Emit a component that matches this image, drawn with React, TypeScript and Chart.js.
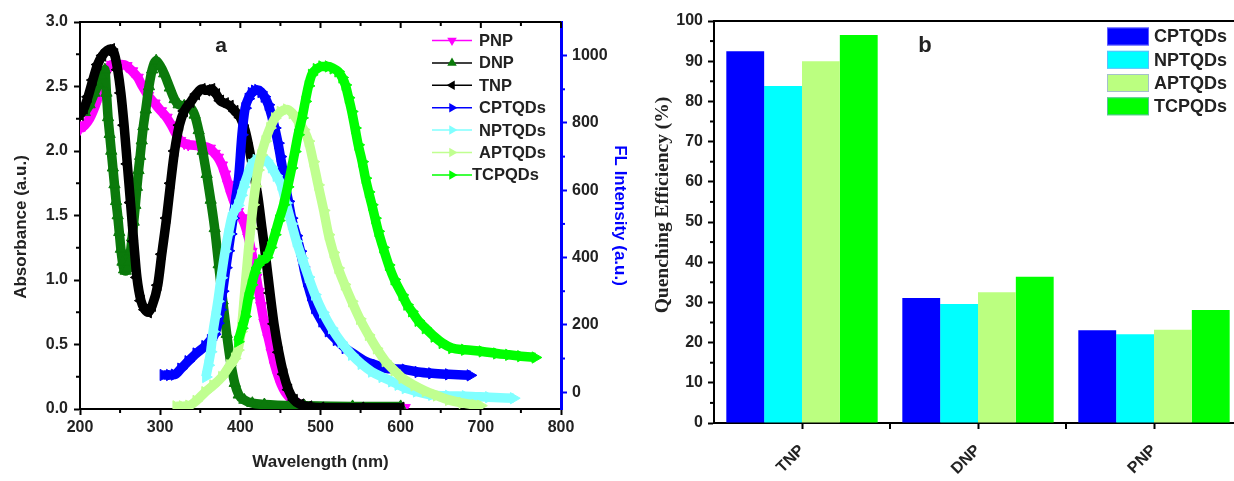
import React, { useEffect, useRef } from 'react';
import { Chart, registerables } from 'chart.js';

Chart.register(...registerables);

// ---------------- Panel a : absorbance (left axis) ----------------
const PNP_WL = [200, 206, 212, 219, 225, 230, 234, 240, 246, 252, 258, 265, 272, 278, 285, 293, 301, 308, 314, 320, 325, 330, 335, 348, 362, 368, 372, 377, 381, 385, 389, 393, 397, 402, 406, 410, 414, 417, 420, 423, 426, 430, 435, 439, 443, 447, 451, 456, 462, 467, 472, 480, 490, 520, 560, 605];
const PNP_ABS = [2.17, 2.2, 2.25, 2.35, 2.46, 2.57, 2.63, 2.67, 2.67, 2.67, 2.66, 2.62, 2.57, 2.5, 2.43, 2.37, 2.31, 2.26, 2.2, 2.13, 2.08, 2.06, 2.05, 2.04, 2.02, 1.98, 1.95, 1.89, 1.82, 1.74, 1.66, 1.59, 1.53, 1.48, 1.42, 1.33, 1.22, 1.12, 1.02, 0.91, 0.8, 0.67, 0.55, 0.44, 0.34, 0.26, 0.19, 0.13, 0.085, 0.055, 0.035, 0.02, 0.015, 0.012, 0.01, 0.01];

const DNP_WL = [206, 212, 218, 223, 227, 231, 233, 235, 237, 239, 241, 243, 245, 247, 249, 251, 253, 255, 257, 259, 261, 263, 265, 267, 269, 271, 273, 275, 277, 279, 282, 286, 290, 295, 300, 305, 312, 318, 323, 330, 337, 343, 348, 353, 358, 363, 368, 373, 378, 383, 388, 393, 398, 405, 415, 430, 480, 540, 600];
const DNP_ABS = [2.3, 2.36, 2.45, 2.52, 2.58, 2.63, 2.45, 2.26, 2.13, 2.0, 1.87, 1.74, 1.61, 1.5, 1.37, 1.24, 1.14, 1.08, 1.07, 1.09, 1.14, 1.22, 1.33, 1.45, 1.58, 1.72, 1.85, 1.96, 2.08, 2.19, 2.32, 2.5, 2.63, 2.7, 2.66, 2.6, 2.49, 2.4, 2.36, 2.35, 2.34, 2.28, 2.16, 2.0, 1.82, 1.62, 1.4, 1.12, 0.84, 0.58, 0.36, 0.2, 0.11, 0.07, 0.045, 0.035, 0.025, 0.02, 0.02];

const TNP_WL = [200, 205, 210, 216, 222, 228, 234, 239, 243, 247, 251, 255, 259, 263, 267, 271, 276, 281, 285, 290, 297, 302, 308, 313, 318, 324, 330, 338, 345, 352, 358, 364, 370, 375, 381, 387, 393, 400, 406, 411, 416, 422, 427, 432, 437, 442, 448, 454, 460, 467, 475, 485, 500, 550, 600];
const TNP_ABS = [2.28, 2.33, 2.42, 2.55, 2.67, 2.74, 2.78, 2.79, 2.75, 2.63, 2.45, 2.2, 1.9, 1.6, 1.3, 1.02, 0.84, 0.77, 0.75, 0.8, 0.96, 1.2, 1.48, 1.75, 2.0, 2.2, 2.31, 2.38, 2.44, 2.48, 2.47, 2.48, 2.44, 2.39, 2.37, 2.35, 2.31, 2.26, 2.16, 2.02, 1.85, 1.64, 1.4, 1.16, 0.9, 0.66, 0.44, 0.27, 0.15, 0.07, 0.035, 0.02, 0.01, 0.01, 0.01];

// ---------------- Panel a : FL intensity (right axis) ----------------
const CPTQDS_WL = [304, 312, 318, 326, 335, 345, 356, 363, 368, 372, 375, 378, 382, 385, 388, 391, 394, 398, 402, 406, 410, 414, 418, 422, 426, 430, 435, 439, 443, 447, 450, 453, 456, 460, 464, 470, 475, 479, 483, 488, 493, 502, 510, 520, 531, 544, 556, 570, 581, 594, 606, 622, 639, 660, 687];
const CPTQDS_FL = [51, 51, 52, 70, 92, 115, 137, 155, 172, 205, 245, 300, 370, 420, 470, 517, 570, 640, 765, 844, 872, 889, 896, 898, 892, 878, 854, 822, 785, 740, 700, 660, 616, 567, 517, 465, 419, 372, 330, 288, 250, 210, 181, 155, 131, 110, 92, 80, 71, 69, 67, 60, 56, 53, 50];

const NPTQDS_WL = [357, 360, 363, 366, 369, 372, 376, 381, 385, 389, 393, 397, 401, 404, 409, 414, 420, 427, 433, 439, 445, 451, 457, 464, 470, 477, 485, 493, 503, 514, 526, 539, 551, 564, 577, 589, 597, 606, 620, 639, 660, 681, 710, 741];
const NPTQDS_FL = [45, 80, 120, 180, 225, 270, 340, 419, 470, 517, 540, 555, 585, 610, 645, 676, 690, 697, 688, 668, 643, 616, 562, 500, 448, 398, 342, 290, 237, 190, 148, 111, 84, 61, 45, 32, 22, 12, 2, -8, -11, -12, -15, -18];

const APTQDS_WL = [320, 328, 336, 345, 356, 366, 377, 387, 393, 397, 401, 404, 407, 410, 413, 416, 419, 422, 426, 431, 437, 443, 450, 458, 465, 472, 479, 485, 491, 497, 504, 510, 516, 522, 530, 539, 549, 560, 570, 581, 592, 602, 617, 631, 645, 660, 677, 693, 700];
const APTQDS_FL = [-42, -42, -40, -26, 0, 20, 45, 80, 100, 125, 180, 255, 340, 419, 490, 557, 612, 660, 705, 746, 785, 814, 833, 840, 829, 805, 780, 746, 685, 616, 540, 468, 415, 369, 320, 270, 218, 170, 130, 92, 65, 42, 20, 3, -10, -23, -32, -38, -40];

const TCPQDS_WL = [397, 402, 406, 410, 414, 418, 422, 427, 433, 438, 443, 448, 454, 459, 464, 468, 472, 477, 481, 485, 489, 495, 502, 510, 516, 522, 527, 531, 535, 539, 543, 547, 552, 556, 560, 564, 568, 572, 578, 585, 592, 602, 608, 614, 622, 631, 642, 652, 664, 680, 702, 720, 735, 750, 768];
const TCPQDS_FL = [150, 190, 225, 280, 319, 355, 378, 392, 400, 430, 468, 510, 557, 610, 666, 715, 765, 815, 864, 910, 943, 960, 968, 968, 962, 953, 935, 913, 875, 834, 785, 735, 685, 636, 595, 557, 517, 478, 430, 378, 335, 289, 260, 240, 212, 190, 165, 146, 131, 126, 121, 115, 111, 107, 103];

const X_TICKS_A = [200, 300, 400, 500, 600, 700, 800];
const Y_TICKS_A = [0, 0.5, 1.0, 1.5, 2.0, 2.5, 3.0];
const Y1_TICKS_A = [0, 200, 400, 600, 800, 1000];

// ---------------- Panel b : quenching efficiency ----------------
const BAR_CATEGORIES = ['TNP', 'DNP', 'PNP'];
const QE_CPTQDS = [92.5, 31.1, 23.1];
const QE_NPTQDS = [83.8, 29.6, 22.1];
const QE_APTQDS = [90.0, 32.5, 23.2];
const QE_TCPQDS = [96.5, 36.4, 28.1];
const Y_TICKS_B = [0, 10, 20, 30, 40, 50, 60, 70, 80, 90, 100];

// ---------------- styling ----------------
const SANS = "'Liberation Sans', Arial, Helvetica, sans-serif";
const SERIF = "'Liberation Serif', 'Times New Roman', serif";
const TXT = '#222222';

type Series = { label: string; xs: number[]; ys: number[]; color: string; legendLine: string; rot: number; axis: string; order: number };

const SERIES_A: Series[] = [
  { label: 'PNP', xs: PNP_WL, ys: PNP_ABS, color: '#ff00ff', legendLine: '#ff00ff', rot: 180, axis: 'y', order: 6 },
  { label: 'DNP', xs: DNP_WL, ys: DNP_ABS, color: '#0b7a0b', legendLine: '#000000', rot: 0, axis: 'y', order: 5 },
  { label: 'TNP', xs: TNP_WL, ys: TNP_ABS, color: '#000000', legendLine: '#000000', rot: 270, axis: 'y', order: 4 },
  { label: 'CPTQDs', xs: CPTQDS_WL, ys: CPTQDS_FL, color: '#0000ff', legendLine: '#0000ff', rot: 90, axis: 'y1', order: 3 },
  { label: 'NPTQDs', xs: NPTQDS_WL, ys: NPTQDS_FL, color: '#80ffff', legendLine: '#80ffff', rot: 90, axis: 'y1', order: 2 },
  { label: 'APTQDs', xs: APTQDS_WL, ys: APTQDS_FL, color: '#c0ff90', legendLine: '#c0ff90', rot: 90, axis: 'y1', order: 1 },
  { label: 'TCPQDs', xs: TCPQDS_WL, ys: TCPQDS_FL, color: '#00ff00', legendLine: '#00ff00', rot: 90, axis: 'y1', order: 0 },
];

const SERIES_B = [
  { label: 'CPTQDs', data: QE_CPTQDS, color: '#0000ff' },
  { label: 'NPTQDs', data: QE_NPTQDS, color: '#00ffff' },
  { label: 'APTQDs', data: QE_APTQDS, color: '#bbff80' },
  { label: 'TCPQDs', data: QE_TCPQDS, color: '#00ff00' },
];

function drawTri(ctx: CanvasRenderingContext2D, x: number, y: number, r: number, rotDeg: number, color: string) {
  ctx.save();
  ctx.translate(x, y);
  ctx.rotate((rotDeg * Math.PI) / 180);
  ctx.beginPath();
  ctx.moveTo(0, -r);
  ctx.lineTo(r * 0.866, r * 0.5);
  ctx.lineTo(-r * 0.866, r * 0.5);
  ctx.closePath();
  ctx.fillStyle = color;
  ctx.fill();
  ctx.restore();
}

function drawVText(ctx: CanvasRenderingContext2D, text: string, x: number, y: number, font: string, color: string, rot: number) {
  ctx.save();
  ctx.translate(x, y);
  ctx.rotate(rot);
  ctx.font = font;
  ctx.fillStyle = color;
  ctx.textAlign = 'center';
  ctx.textBaseline = 'middle';
  ctx.fillText(text, 0, 0);
  ctx.restore();
}

const setTicks = (vals: number[]) => (s: any) => {
  s.ticks = vals.map((v) => ({ value: v }));
};

const decorA = {
  id: 'decorA',
  afterDraw(chart: any) {
    const ctx: CanvasRenderingContext2D = chart.ctx;
    const { left, right, top, bottom } = chart.chartArea;
    const x = chart.scales.x;
    const y = chart.scales.y;
    const y1 = chart.scales.y1;
    ctx.save();
    ctx.strokeStyle = '#000';
    ctx.lineWidth = 2;
    ctx.beginPath();
    ctx.moveTo(left - 1, top);
    ctx.lineTo(right, top);
    ctx.stroke();
    for (let v = 200; v <= 800; v += 50) {
      const px = x.getPixelForValue(v);
      const len = v % 100 === 0 ? 6 : 4;
      ctx.beginPath();
      ctx.moveTo(px, top);
      ctx.lineTo(px, top + len);
      ctx.stroke();
    }
    for (let v = 250; v < 800; v += 100) {
      const px = x.getPixelForValue(v);
      ctx.beginPath();
      ctx.moveTo(px, bottom);
      ctx.lineTo(px, bottom + 4);
      ctx.stroke();
    }
    for (let v = 0.25; v < 3; v += 0.5) {
      const py = y.getPixelForValue(v);
      ctx.beginPath();
      ctx.moveTo(left, py);
      ctx.lineTo(left - 4, py);
      ctx.stroke();
    }
    ctx.strokeStyle = '#0000ff';
    for (let v = 100; v < 1100; v += 200) {
      const py = y1.getPixelForValue(v);
      ctx.beginPath();
      ctx.moveTo(right, py);
      ctx.lineTo(right + 4, py);
      ctx.stroke();
    }
    drawVText(ctx, 'Absorbance (a.u.)', 21, 227, `bold 17px ${SANS}`, TXT, -Math.PI / 2);
    const y0 = 40.5;
    const dy = 22.4;
    SERIES_A.forEach((s, i) => {
      const ly = y0 + i * dy;
      ctx.strokeStyle = s.legendLine;
      ctx.lineWidth = 1.5;
      ctx.beginPath();
      ctx.moveTo(432, ly);
      ctx.lineTo(472, ly);
      ctx.stroke();
      drawTri(ctx, 452, ly, 5.5, s.rot, s.color);
      ctx.fillStyle = TXT;
      ctx.font = `bold 16.5px ${SANS}`;
      ctx.textBaseline = 'middle';
      ctx.textAlign = 'left';
      ctx.fillText(s.label, s.label === 'TCPQDs' ? 472 : 479, ly + 1);
    });
    ctx.fillStyle = TXT;
    ctx.font = `bold 21px ${SANS}`;
    ctx.textAlign = 'center';
    ctx.textBaseline = 'middle';
    ctx.fillText('a', 221, 46);
    ctx.restore();
  },
};

const decorB = {
  id: 'decorB',
  afterDraw(chart: any) {
    const ctx: CanvasRenderingContext2D = chart.ctx;
    const { left, right, top, bottom } = chart.chartArea;
    const x = chart.scales.x;
    const y = chart.scales.y;
    ctx.save();
    ctx.strokeStyle = '#000';
    ctx.lineWidth = 2;
    ctx.beginPath();
    ctx.moveTo(left - 1, top);
    ctx.lineTo(right, top);
    ctx.stroke();
    for (let v = 5; v < 100; v += 10) {
      const py = y.getPixelForValue(v);
      ctx.beginPath();
      ctx.moveTo(left, py);
      ctx.lineTo(left - 4, py);
      ctx.stroke();
    }
    for (let i = 0; i < BAR_CATEGORIES.length - 1; i++) {
      const px = x.getPixelForValue(i + 0.5);
      ctx.beginPath();
      ctx.moveTo(px, bottom);
      ctx.lineTo(px, bottom + 6);
      ctx.stroke();
    }
    drawVText(ctx, 'Quenching Efficiency (%)', 23, 205, `bold 19.5px ${SERIF}`, TXT, -Math.PI / 2);
    const lx = 467;
    const rows = [36.5, 59.8, 83, 106.3];
    SERIES_B.forEach((s, i) => {
      const ly = rows[i];
      ctx.fillStyle = s.color;
      ctx.fillRect(lx, ly - 9, 42, 18);
      ctx.strokeStyle = 'rgba(150,150,255,0.6)';
      ctx.lineWidth = 1;
      ctx.strokeRect(lx + 0.5, ly - 8.5, 41, 17);
      ctx.fillStyle = TXT;
      ctx.font = `bold 18px ${SANS}`;
      ctx.textAlign = 'left';
      ctx.textBaseline = 'middle';
      ctx.fillText(s.label, 514, ly + 1);
    });
    ctx.fillStyle = TXT;
    ctx.font = `bold 22px ${SANS}`;
    ctx.textAlign = 'center';
    ctx.textBaseline = 'middle';
    ctx.fillText('b', 285, 46);
    ctx.restore();
  },
};

function makeChartA(canvas: HTMLCanvasElement) {
  const datasets = SERIES_A.map((s) => ({
    label: s.label,
    data: s.xs.map((v, i) => ({ x: v, y: s.ys[i] })),
    yAxisID: s.axis,
    order: s.order,
    borderColor: s.color,
    backgroundColor: s.color,
    borderWidth: 9.5,
    cubicInterpolationMode: 'monotone' as const,
    pointStyle: 'triangle' as const,
    pointRotation: s.rot,
    pointRadius: 6.5,
    pointBackgroundColor: s.color,
    pointBorderColor: s.color,
    pointBorderWidth: 1,
    fill: false,
  }));
  const tickFont = { family: SANS, size: 16, weight: 'bold' as const };
  const titleFont = { family: SANS, size: 17, weight: 'bold' as const };
  return new Chart(canvas, {
    type: 'line',
    data: { datasets },
    plugins: [decorA],
    options: {
      responsive: false,
      animation: false,
      layout: { padding: { top: 22, left: 0, right: 0, bottom: 0 } },
      plugins: { legend: { display: false }, tooltip: { enabled: false } },
      scales: {
        x: {
          type: 'linear',
          min: 200,
          max: 800,
          afterBuildTicks: setTicks(X_TICKS_A),
          afterFit: (s: any) => { s.height = 72; },
          ticks: { font: tickFont, color: TXT, padding: 3, callback: (v: any) => String(v) },
          grid: { drawOnChartArea: false, tickLength: 6, tickWidth: 2, tickColor: '#000' },
          border: { color: '#000', width: 2 },
          title: { display: true, text: 'Wavelength (nm)', font: titleFont, color: TXT, padding: { top: 0, bottom: 8 } },
        },
        y: {
          type: 'linear',
          position: 'left',
          min: 0,
          max: 3,
          afterBuildTicks: setTicks(Y_TICKS_A),
          afterFit: (s: any) => { s.width = 80; },
          ticks: { font: tickFont, color: TXT, padding: 6, callback: (v: any) => Number(v).toFixed(1) },
          grid: { drawOnChartArea: false, tickLength: 6, tickWidth: 2, tickColor: '#000' },
          border: { color: '#000', width: 2 },
          title: { display: false, text: 'Absorbance (a.u.)' },
        },
        y1: {
          type: 'linear',
          position: 'right',
          min: -50,
          max: 1100,
          afterBuildTicks: setTicks(Y1_TICKS_A),
          afterFit: (s: any) => { s.width = 79; },
          ticks: { font: tickFont, color: TXT, padding: 5, callback: (v: any) => String(v) },
          grid: { drawOnChartArea: false, tickLength: 6, tickWidth: 2, tickColor: '#0000ff' },
          border: { color: '#0000ff', width: 3 },
          title: { display: true, text: 'FL Intensity (a.u.)', font: titleFont, color: '#0000ff', padding: { top: 10, bottom: 0 } },
        },
      },
    },
  } as any);
}

function makeChartB(canvas: HTMLCanvasElement) {
  const tickFont = { family: SANS, size: 16, weight: 'bold' as const };
  return new Chart(canvas, {
    type: 'bar',
    data: {
      labels: BAR_CATEGORIES,
      datasets: SERIES_B.map((s) => ({
        label: s.label,
        data: s.data,
        backgroundColor: s.color,
        borderWidth: 0,
        categoryPercentage: 0.86,
        barPercentage: 1.0,
      })),
    },
    plugins: [decorB],
    options: {
      responsive: false,
      animation: false,
      layout: { padding: { top: 21, left: 0, right: 0, bottom: 0 } },
      plugins: { legend: { display: false }, tooltip: { enabled: false } },
      scales: {
        x: {
          afterFit: (s: any) => { s.height = 58; },
          ticks: { font: tickFont, color: TXT, padding: 12, minRotation: 45, maxRotation: 45, autoSkip: false },
          grid: { offset: false, drawOnChartArea: false, tickLength: 6, tickWidth: 2, tickColor: '#000' },
          border: { color: '#000', width: 2 },
        },
        y: {
          min: 0,
          max: 100,
          afterBuildTicks: setTicks(Y_TICKS_B),
          afterFit: (s: any) => { s.width = 74; },
          ticks: { font: tickFont, color: TXT, padding: 5 },
          grid: { drawOnChartArea: false, tickLength: 6, tickWidth: 2, tickColor: '#000' },
          border: { color: '#000', width: 2 },
          title: { display: false, text: 'Quenching Efficiency (%)' },
        },
      },
    },
  } as any);
}

export default function App() {
  const refA = useRef<HTMLCanvasElement>(null);
  const refB = useRef<HTMLCanvasElement>(null);
  useEffect(() => {
    Chart.defaults.font.family = SANS;
    const a = makeChartA(refA.current!);
    const b = makeChartB(refB.current!);
    return () => {
      a.destroy();
      b.destroy();
    };
  }, []);
  return (
    <div style={{ position: 'absolute', left: 0, top: 0, width: 1234, height: 481, overflow: 'hidden', background: '#ffffff' }}>
      <canvas ref={refA} width={640} height={481} style={{ position: 'absolute', left: 0, top: 0, width: 640, height: 481 }} />
      <canvas ref={refB} width={602} height={481} style={{ position: 'absolute', left: 640, top: 0, width: 602, height: 481 }} />
    </div>
  );
}
